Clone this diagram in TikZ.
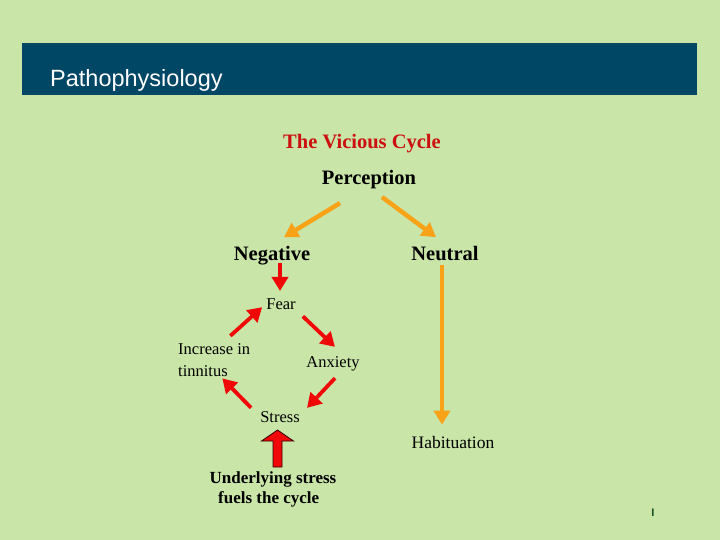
\documentclass[tikz,border=0pt]{standalone}
\usepackage{fontspec}
\setmainfont{Liberation Serif}
\newfontfamily\slidesans{Liberation Sans}
\usetikzlibrary{arrows.meta, positioning}
\definecolor{slidegreen}{RGB}{201,229,167}
\definecolor{slideblue}{RGB}{0,71,102}
\definecolor{cycleorange}{RGB}{248,162,24}
\definecolor{cyclered}{RGB}{240,8,8}
\definecolor{titlered}{RGB}{204,16,16}
\definecolor{markgreen}{RGB}{24,80,40}

\begin{document}
\begin{tikzpicture}[x=1pt, y=-1pt,
      big/.style={inner sep=0pt, anchor=base, font=\fontsize{20.5}{24}\selectfont\bfseries},
      small/.style={inner sep=0pt, anchor=base, font=\fontsize{16.5}{22}\selectfont},
      warm/.style={-{Triangle[width=16pt,length=14pt]}, line width=4.5pt, cycleorange},
      hot/.style={-{Triangle[width=16pt,length=14pt]}, line width=3.8pt, cyclered},
      fuel/.style={fill=cyclered, draw=black!80!red, line width=0.8pt}]
    \fill[slidegreen] (0,0) rectangle (720,540);
    \useasboundingbox (0,0) rectangle (720,540);
    \fill[slideblue] (22,43) rectangle (697,95);
    \node[inner sep=0pt, anchor=base west, text=white,
          font=\slidesans\fontsize{23.5}{26}\selectfont] (head) at (50,87) {Pathophysiology};
    \node[big, text=titlered] (vicious) at (362,149) {The Vicious Cycle};
    \node[big] (perc) at (369,185) {Perception};
    \node[big] (neg)  at (272,260) {Negative};
    \node[big] (neut) at (445,260) {Neutral};
    \node[small] (fear)   at (281,309) {Fear};
    \node[small] (anx)    at (333,367) {Anxiety};
    \node[small] (stress) at (280,422) {Stress};
    \node[small, anchor=base west, align=left] (incr) at (178,376) {Increase in\\tinnitus};
    \node[small, font=\fontsize{17.5}{22}\selectfont] (habit) at (453,448) {Habituation};
    \node[inner sep=0pt, anchor=base, align=left,
          font=\fontsize{17}{20}\selectfont\bfseries] (cause) at (273,503) {Underlying stress\\\ \ fuels the cycle};
    \node[inner sep=0pt, anchor=base, text=markgreen,
          font=\slidesans\bfseries\fontsize{11}{12}\selectfont] (slideno) at (653,516) {I};
    % perception splits
    \draw[warm] ([xshift=-29pt,yshift=-13.5pt]perc.south) -- ([xshift=12pt,yshift=8.4pt]neg.north);
    \draw[warm] ([xshift=13pt,yshift=-7.5pt]perc.south) -- ([xshift=-9pt,yshift=8.4pt]neut.north);
    \draw[warm] ([xshift=-3pt,yshift=-5pt]neut.south) -- ([xshift=-11pt,yshift=11pt]habit.north);
    % the cycle
    \draw[hot] ([xshift=8pt,yshift=2pt]neg.south) -- ([xshift=-1pt,yshift=7pt]fear.north);
    \draw[hot] ([xshift=7pt,yshift=-7pt]fear.south east) -- ([xshift=2pt,yshift=9pt]anx.north);
    \draw[hot] ([xshift=2pt,yshift=-7.4pt]anx.south) -- ([xshift=27pt,yshift=3pt]stress.north);
    \draw[hot] ([xshift=-9pt,yshift=3pt]stress.north west) -- ([xshift=-28pt,yshift=-2pt]incr.south east);
    \draw[hot] ([xshift=-20pt,yshift=7pt]incr.north east) -- ([xshift=-4pt,yshift=-3.5pt]fear.west);
    % block arrow
    \coordinate (push) at (277.5,467);
    \draw[fuel] (push) ++(-4.5,0) -- ++(0,-26) -- ++(-11.5,0) -- ++(16,-11)
      -- ++(16,11) -- ++(-11.5,0) -- ++(0,26) -- cycle;
  \end{tikzpicture}
\end{document}
